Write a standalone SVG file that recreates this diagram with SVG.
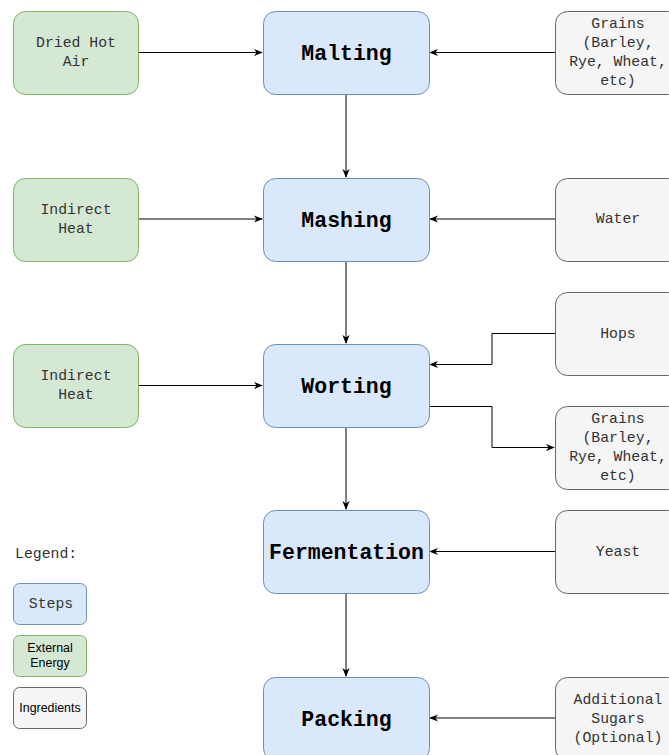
<svg xmlns="http://www.w3.org/2000/svg" width="669" height="755" viewBox="0 0 669 755">
<defs>
<marker id="arr" viewBox="0 0 10 10" refX="9" refY="5" markerWidth="9" markerHeight="9" markerUnits="userSpaceOnUse" orient="auto">
<path d="M0,1 L10,5 L0,9 L3,5 Z" fill="#000"/>
</marker>
<style>
.step rect{fill:#dae8fc;stroke:#6c8ebf;stroke-width:1}
.energy rect{fill:#d5e8d4;stroke:#82b366;stroke-width:1}
.ing rect{fill:#f5f5f5;stroke:#666666;stroke-width:1}
.st{font-family:"Liberation Mono","Courier New",monospace;font-weight:bold;font-size:21.5px;fill:#000;text-anchor:middle}
.t{font-family:"Liberation Mono","Courier New",monospace;font-size:14.8px;fill:#333333;text-anchor:middle}
.lg{font-family:"Liberation Sans",Arial,sans-serif;font-size:12.4px;fill:#000;text-anchor:middle}
.c{fill:none;stroke:#000;stroke-width:1;marker-end:url(#arr)}
</style>
</defs>
<rect width="669" height="755" fill="#fff"/>
<g id="connectors">
<path class="c" d="M138,52.5 H262"/>
<path class="c" d="M555,52.5 H430"/>
<path class="c" d="M346,94 V177"/>
<path class="c" d="M138,219 H262"/>
<path class="c" d="M555,219 H430"/>
<path class="c" d="M346,261 V343"/>
<path class="c" d="M138,385.5 H262"/>
<path class="c" d="M555,333.5 H492 V364.5 H430"/>
<path class="c" d="M429,406.5 H492 V447.5 H554"/>
<path class="c" d="M346,427 V509"/>
<path class="c" d="M555,551.5 H430"/>
<path class="c" d="M346,593 V676"/>
<path class="c" d="M555,718 H430"/>
</g>
<g id="malting" class="step"><rect x="263.5" y="11.5" width="166" height="83" rx="12"/><text class="st" x="346.5" y="60">Malting</text></g>
<g id="mashing" class="step"><rect x="263.5" y="178.5" width="166" height="83" rx="12"/><text class="st" x="346.5" y="227">Mashing</text></g>
<g id="worting" class="step"><rect x="263.5" y="344.5" width="166" height="83" rx="12"/><text class="st" x="346.5" y="393">Worting</text></g>
<g id="fermentation" class="step"><rect x="263.5" y="510.5" width="166" height="83" rx="12"/><text class="st" x="346.5" y="559">Fermentation</text></g>
<g id="packing" class="step"><rect x="263.5" y="677.5" width="166" height="83" rx="12"/><text class="st" x="346.5" y="726">Packing</text></g>
<g id="dried-hot-air" class="energy"><rect x="13.5" y="11.5" width="125" height="83" rx="12"/><text class="t" x="76" y="47">Dried Hot</text><text class="t" x="76" y="66">Air</text></g>
<g id="indirect-heat-1" class="energy"><rect x="13.5" y="178.5" width="125" height="83" rx="12"/><text class="t" x="76" y="214">Indirect</text><text class="t" x="76" y="233">Heat</text></g>
<g id="indirect-heat-2" class="energy"><rect x="13.5" y="344.5" width="125" height="83" rx="12"/><text class="t" x="76" y="380">Indirect</text><text class="t" x="76" y="399">Heat</text></g>
<g id="grains-1" class="ing"><rect x="555.5" y="11.5" width="125" height="83" rx="12"/><text class="t" x="618" y="28">Grains</text><text class="t" x="618" y="47">(Barley,</text><text class="t" x="618" y="66">Rye, Wheat,</text><text class="t" x="618" y="85">etc)</text></g>
<g id="water" class="ing"><rect x="555.5" y="178.5" width="125" height="83" rx="12"/><text class="t" x="618" y="223">Water</text></g>
<g id="hops" class="ing"><rect x="555.5" y="292.5" width="125" height="83" rx="12"/><text class="t" x="618" y="338">Hops</text></g>
<g id="grains-2" class="ing"><rect x="555.5" y="406.5" width="125" height="83" rx="12"/><text class="t" x="618" y="423">Grains</text><text class="t" x="618" y="442">(Barley,</text><text class="t" x="618" y="461">Rye, Wheat,</text><text class="t" x="618" y="480">etc)</text></g>
<g id="yeast" class="ing"><rect x="555.5" y="510.5" width="125" height="83" rx="12"/><text class="t" x="618" y="556">Yeast</text></g>
<g id="sugars" class="ing"><rect x="555.5" y="677.5" width="125" height="83" rx="12"/><text class="t" x="618" y="704">Additional</text><text class="t" x="618" y="723">Sugars</text><text class="t" x="618" y="742">(Optional)</text></g>
<g id="legend">
<text x="15" y="558" style="font-family:'Liberation Mono','Courier New',monospace;font-size:14.8px;fill:#333333">Legend:</text>
<g id="legend-steps" class="step"><rect x="13.5" y="583.5" width="73" height="41" rx="6"/><text class="t" x="51" y="608">Steps</text></g>
<g id="legend-energy" class="energy"><rect x="13.5" y="635.5" width="73" height="41" rx="6"/><text class="lg" x="50" y="652">External</text><text class="lg" x="50" y="667">Energy</text></g>
<g id="legend-ing" class="ing"><rect x="13.5" y="687.5" width="73" height="41" rx="6"/><text class="lg" x="50" y="712">Ingredients</text></g>
</g>
</svg>
